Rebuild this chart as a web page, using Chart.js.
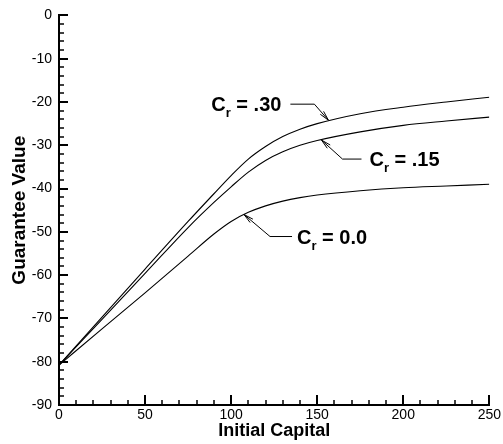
<!DOCTYPE html>
<html>
<head>
<meta charset="utf-8">
<script src="https://cdn.jsdelivr.net/npm/chart.js@4.4.0/dist/chart.umd.min.js"></script>
<style>
  html, body { margin: 0; padding: 0; background: #fff; }
  #wrap { width: 503px; height: 444px; }
</style>
</head>
<body>
<div id="wrap"><canvas id="chart"></canvas></div>
<script>
// valores
const capital = [0, 25, 50, 75, 90, 100, 110, 120, 130, 140, 150, 175, 200, 225, 250];
const cr030 = [-80.8, -69.7, -58.6, -47.6, -41.2, -37.0, -33.2, -30.3, -28.0, -26.3, -25.0, -22.7, -21.2, -20.0, -18.9];
const cr015 = [-80.8, -70.2, -59.6, -49.0, -43.2, -39.6, -36.2, -33.5, -31.5, -30.0, -28.9, -26.9, -25.4, -24.4, -23.5];
const cr000 = [-80.8, -72.4, -64.1, -55.6, -50.5, -47.6, -45.5, -44.0, -42.9, -42.1, -41.5, -40.5, -39.8, -39.4, -39.0];

const xTicks = [0, 50, 100, 150, 200, 250];
const yTicks = [0, -10, -20, -30, -40, -50, -60, -70, -80, -90];

// rótulos com seta: ponta na curva (coordenadas de dados)
const labels = [
  { text: ' = .30', tipX: 156.5, tipY: -24.2, dx: -14, dy: -16, leg: -24, gap: 9 },
  { text: ' = .15', tipX: 152.5, tipY: -28.8, dx: 21, dy: 19, leg: 19, gap: 8 },
  { text: ' = 0.0', tipX: 107.5, tipY: -46.0, dx: 26, dy: 22, leg: 22, gap: 5 }
];

function toPoints(ys) {
  return capital.map((x, i) => ({ x: x, y: ys[i] }));
}

const lineStyle = {
  borderColor: '#000',
  borderWidth: 1.1,
  pointRadius: 0,
  fill: false,
  cubicInterpolationMode: 'monotone'
};

// marcas para dentro do eixo
const innerTicks = {
  id: 'innerTicks',
  afterDraw(chart) {
    const ctx = chart.ctx;
    const xs = chart.scales.x, ys = chart.scales.y;
    const area = chart.chartArea;
    ctx.save();
    ctx.strokeStyle = '#000';
    for (let v = 0; v <= 250; v += 10) {
      const major = v % 50 === 0;
      const px = Math.round(xs.getPixelForValue(v));
      ctx.lineWidth = major ? 2 : 1.5;
      ctx.beginPath();
      ctx.moveTo(px, area.bottom);
      ctx.lineTo(px, area.bottom - (major ? 10 : 5));
      ctx.stroke();
    }
    for (let v = -90; v <= 0; v += 2) {
      const major = v % 10 === 0;
      const py = Math.round(ys.getPixelForValue(v));
      ctx.lineWidth = major ? 2 : 1.5;
      ctx.beginPath();
      ctx.moveTo(area.left, py);
      ctx.lineTo(area.left + (major ? 9 : 5), py);
      ctx.stroke();
    }
    ctx.restore();
  }
};

// anotações C_r com setas
const arrowLabels = {
  id: 'arrowLabels',
  afterDatasetsDraw(chart) {
    const ctx = chart.ctx;
    const xs = chart.scales.x, ys = chart.scales.y;
    ctx.save();
    ctx.strokeStyle = '#000';
    ctx.fillStyle = '#000';
    ctx.lineWidth = 1;
    labels.forEach(l => {
      const tx = xs.getPixelForValue(l.tipX);
      const ty = ys.getPixelForValue(l.tipY);
      const ex = tx + l.dx, ey = ty + l.dy;
      const sx = ex + l.leg;
      ctx.beginPath();
      ctx.moveTo(sx, ey);
      ctx.lineTo(ex, ey);
      ctx.lineTo(tx, ty);
      ctx.stroke();
      // ponta de seta aberta
      const ang = Math.atan2(ey - ty, ex - tx);
      const len = 10, spread = 0.22;
      ctx.beginPath();
      ctx.moveTo(tx + len * Math.cos(ang - spread), ty + len * Math.sin(ang - spread));
      ctx.lineTo(tx, ty);
      ctx.lineTo(tx + len * Math.cos(ang + spread), ty + len * Math.sin(ang + spread));
      ctx.stroke();

      // texto
      const big = 'bold 20px "Liberation Sans", Arial, sans-serif';
      const small = 'bold 13px "Liberation Sans", Arial, sans-serif';
      ctx.font = big;
      const wC = ctx.measureText('C').width;
      const wRest = ctx.measureText(l.text).width;
      ctx.font = small;
      const wR = ctx.measureText('r').width;
      const total = wC + wR + wRest;
      let x0 = l.leg < 0 ? sx - l.gap - total : sx + l.gap;
      const base = ey + 7;
      ctx.textBaseline = 'alphabetic';
      ctx.textAlign = 'left';
      ctx.font = big;
      ctx.fillText('C', x0, base);
      ctx.font = small;
      ctx.fillText('r', x0 + wC, base + 6);
      ctx.font = big;
      ctx.fillText(l.text, x0 + wC + wR, base);
    });
    ctx.restore();
  }
};

const ctx = document.getElementById('chart').getContext('2d');
new Chart(ctx, {
  type: 'line',
  data: {
    datasets: [
      Object.assign({ label: 'Cr = .30', data: toPoints(cr030) }, lineStyle),
      Object.assign({ label: 'Cr = .15', data: toPoints(cr015) }, lineStyle),
      Object.assign({ label: 'Cr = 0.0', data: toPoints(cr000) }, lineStyle)
    ]
  },
  options: {
    responsive: true,
    maintainAspectRatio: false,
    animation: false,
    layout: { padding: { top: 13, right: 13, left: 0, bottom: 0 } },
    plugins: {
      legend: { display: false },
      tooltip: { enabled: false }
    },
    scales: {
      x: {
        type: 'linear',
        min: 0,
        max: 250,
        afterBuildTicks: s => { s.ticks = xTicks.map(v => ({ value: v })); },
        afterFit: s => { s.height = 39; },
        grid: { display: false, drawTicks: false },
        border: { display: true, color: '#000', width: 2 },
        ticks: {
          padding: 2,
          color: '#000',
          maxRotation: 0,
          font: { family: '"Liberation Sans", Arial, sans-serif', size: 14 }
        },
        title: {
          display: true,
          text: 'Initial Capital',
          color: '#000',
          padding: { top: 0, bottom: 2 },
          font: { family: '"Liberation Sans", Arial, sans-serif', size: 18, weight: 'bold' }
        }
      },
      y: {
        type: 'linear',
        min: -90,
        max: 0,
        afterBuildTicks: s => { s.ticks = yTicks.map(v => ({ value: v })); },
        afterFit: s => { s.width = 59; },
        grid: { display: false, drawTicks: false },
        border: { display: true, color: '#000', width: 2 },
        ticks: {
          padding: 7,
          color: '#000',
          font: { family: '"Liberation Sans", Arial, sans-serif', size: 14 }
        },
        title: {
          display: true,
          text: 'Guarantee Value',
          color: '#000',
          padding: { top: 8, bottom: 0 },
          font: { family: '"Liberation Sans", Arial, sans-serif', size: 19, weight: 'bold' }
        }
      }
    }
  },
  plugins: [innerTicks, arrowLabels]
});
</script>
</body>
</html>
